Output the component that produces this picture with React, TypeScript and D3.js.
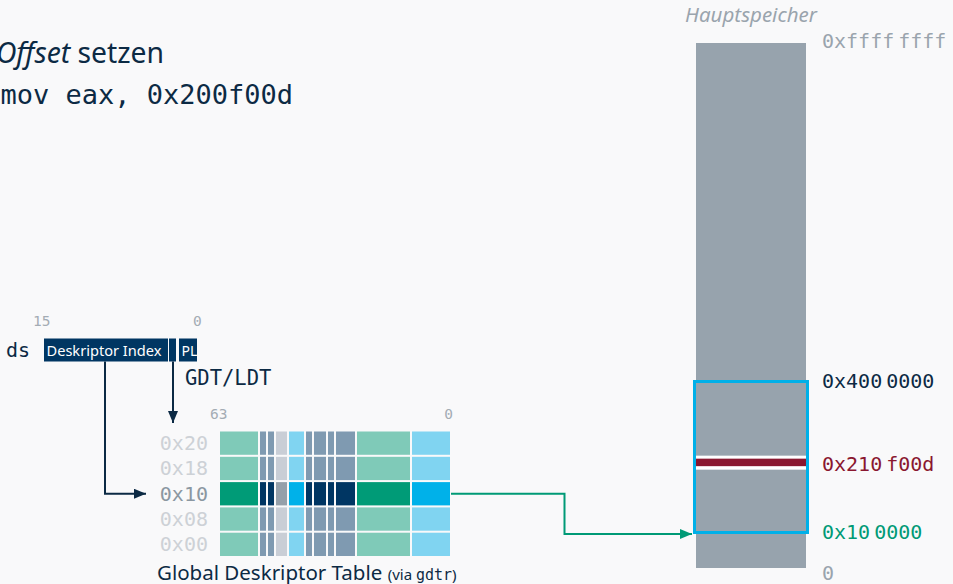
import React from 'react';
import * as d3 from 'd3';

// ---- data ----
const tableRows = ['0x20', '0x18', '0x10', '0x08', '0x00'];
const selectedRow = '0x10';
const descriptorFields = ['base', 'flag', 'flag', 'avl', 'limit', 'flag', 'flag', 'flag', 'flag', 'base', 'limit'];
const bitLabels = ['63', '0'];
const selectorBits = ['15', '0'];
const selectorParts = ['Deskriptor Index', '', 'PL'];

const memTicks = [0, 0x100000, 0x4000000, 0xffffffff];
const memTickLabels = [['0', ''], ['0x10', '0000'], ['0x400', '0000'], ['0xffff', 'ffff']];
const segBase = 0x100000;
const segLimit = 0x4000000;
const offset = 0x200f00d;
const linearAddr = segBase + offset;
const linearLabel = ['0x210', 'f00d'];

// ---- styles ----
const W = 953;
const H = 584;
const BG = '#f9f9fa';
const NAVY = '#0c2a44';
const SANS = '"Noto Sans", "Open Sans", sans-serif';
const MONO = '"DejaVu Sans Mono", monospace';
const GREEN = '#009a76';
const RED = '#8a1730';
const BLUE = '#00b0e8';

const fieldColor: Record<string, [string, string]> = {
  base: ['#7fcab8', '#009b77'],
  flag: ['#7f9ab1', '#003663'],
  avl: ['#c9ced6', '#95a0aa'],
  limit: ['#80d4f1', '#00b1e9'],
};
// column pitch (cell + gap) in px-ish units
const COL_UNITS = [40, 8, 8, 13, 17, 8, 14, 8, 21, 55, 40];

export default function App() {
  // GDT table scales
  const cum = d3.cumsum(COL_UNITS);
  const starts = [0, ...Array.from(cum).slice(0, -1)];
  const x = d3.scaleLinear().domain([0, d3.sum(COL_UNITS)]).range([220, 452]);
  const y = d3.scaleBand<string>().domain(tableRows).range([431.5, 556]).paddingInner(0.08);
  const bw = y.bandwidth();
  const selY = (y(selectedRow) as number) + bw / 2;

  // memory scale (schematic, piecewise)
  const mem = d3.scaleLinear().domain(memTicks).range([568, 532.5, 381.5, 43]);
  const barX = 696;
  const barW = 110;
  const addrY = mem(linearAddr);

  const tableRight = x.range()[1] - 1;
  const midX = 564.5;
  const segBottom = mem(segBase);

  return (
    <svg width={W} height={H} style={{ position: 'absolute', left: 0, top: 0, display: 'block', background: BG }}>
      <defs>
        <marker id="ahNavy" viewBox="0 0 12 10" refX="12" refY="5" markerWidth="12" markerHeight="10" markerUnits="userSpaceOnUse" orient="auto">
          <path d="M0,0 L12,5 L0,10 Z" fill={NAVY} />
        </marker>
        <marker id="ahGreen" viewBox="0 0 12 10" refX="12" refY="5" markerWidth="12" markerHeight="10" markerUnits="userSpaceOnUse" orient="auto">
          <path d="M0,0 L12,5 L0,10 Z" fill={GREEN} />
        </marker>
      </defs>
      <rect width={W} height={H} fill={BG} />

      {/* heading text */}
      <text x={164} y={63} textAnchor="end" fontFamily={SANS} fontSize={28.3} fill={NAVY}>
        <tspan fontStyle="italic">Offset</tspan> setzen
      </text>
      <text x={293} y={104} textAnchor="end" fontFamily={MONO} fontSize={27} fill={NAVY}>
        mov eax, 0x{offset.toString(16)}
      </text>

      {/* segment selector */}
      <text x={6} y={357} fontFamily={MONO} fontSize={20} fill={NAVY}>ds</text>
      <text x={33} y={326} fontFamily={MONO} fontSize={14.5} fill="#a4acb4">{selectorBits[0]}</text>
      <text x={193} y={326} fontFamily={MONO} fontSize={14.5} fill="#a4acb4">{selectorBits[1]}</text>
      {selectorParts.map((p, i) => {
        const bx = [44, 169, 179][i];
        const bwid = [124, 7, 18][i];
        return (
          <g key={i}>
            <rect x={bx} y={338.5} width={bwid} height={23} fill="#003662" />
            {p && (
              <text x={bx + 2.5} y={355.5} fontFamily={SANS} fontSize={i === 0 ? 14.6 : 14} fill="#ffffff">{p}</text>
            )}
          </g>
        );
      })}
      <text x={185} y={385} fontFamily={MONO} fontSize={20.5} fill={NAVY}>GDT/LDT</text>

      {/* selector arrows */}
      <path d={`M105,361.5 V${selY} H146`} fill="none" stroke={NAVY} strokeWidth={2} markerEnd="url(#ahNavy)" />
      <path d={`M173,361.5 V423`} fill="none" stroke={NAVY} strokeWidth={2} markerEnd="url(#ahNavy)" />

      {/* GDT */}
      <text x={210} y={419} fontFamily={MONO} fontSize={14.5} fill="#a4acb4">{bitLabels[0]}</text>
      <text x={453} y={419} textAnchor="end" fontFamily={MONO} fontSize={14.5} fill="#a4acb4">{bitLabels[1]}</text>
      {tableRows.map((r) => {
        const sel = r === selectedRow;
        const ry = y(r) as number;
        return (
          <g key={r}>
            <text x={208} y={ry + bw / 2 + 7} textAnchor="end" fontFamily={MONO} fontSize={20} fill={sel ? '#8b97a1' : '#cdd1d6'}>{r}</text>
            {descriptorFields.map((f, i) => {
              const x0 = x(starts[i]);
              const x1 = x(starts[i] + COL_UNITS[i]) - 2;
              return <rect key={i} x={x0} y={ry} width={x1 - x0} height={bw} fill={fieldColor[f][sel ? 1 : 0]} />;
            })}
          </g>
        );
      })}
      <text x={157} y={579.5} fontFamily={SANS} fontSize={20.5} fill={NAVY}>
        Global Deskriptor Table <tspan fontSize={15}>(via </tspan>
        <tspan fontSize={15} fontFamily={MONO}>gdtr</tspan>
        <tspan fontSize={15}>)</tspan>
      </text>

      {/* link to memory */}
      <path d={`M${tableRight},${selY} H${midX} V${segBottom + 1.5} H692`} fill="none" stroke={GREEN} strokeWidth={2} markerEnd="url(#ahGreen)" />

      {/* memory */}
      <text x={barX + barW / 2} y={22} textAnchor="middle" fontFamily={SANS} fontStyle="italic" fontSize={20.5} fill="#9aa4ad">Hauptspeicher</text>
      <rect x={barX} y={mem(0xffffffff)} width={barW} height={mem(0) - mem(0xffffffff)} fill="#97a3ad" />
      <rect x={barX} y={addrY} width={barW} height={14} fill="#ffffff" />
      <rect x={barX} y={addrY + 3} width={barW} height={7.5} fill={RED} />
      <rect x={barX - 1.5} y={mem(segLimit)} width={barW + 3} height={mem(segBase) - mem(segLimit)} fill="none" stroke={BLUE} strokeWidth={3} />

      {memTicks.map((t, i) => {
        const top = i === memTicks.length - 1;
        const bottom = i === 0;
        const ty = top ? mem(t) + 4.5 : bottom ? mem(t) + 12 : mem(t) + 6;
        const col = t === segBase ? GREEN : t === segLimit ? NAVY : '#9aa4ad';
        const [a, b] = memTickLabels[i];
        return (
          <text key={i} x={822} y={ty} fontFamily={MONO} fontSize={20} fill={col}>
            {a}
            {b && <tspan dx={4}>{b}</tspan>}
          </text>
        );
      })}
      <text x={822} y={addrY + 15} fontFamily={MONO} fontSize={20} fill={RED}>
        {linearLabel[0]}
        <tspan dx={4}>{linearLabel[1]}</tspan>
      </text>
    </svg>
  );
}
